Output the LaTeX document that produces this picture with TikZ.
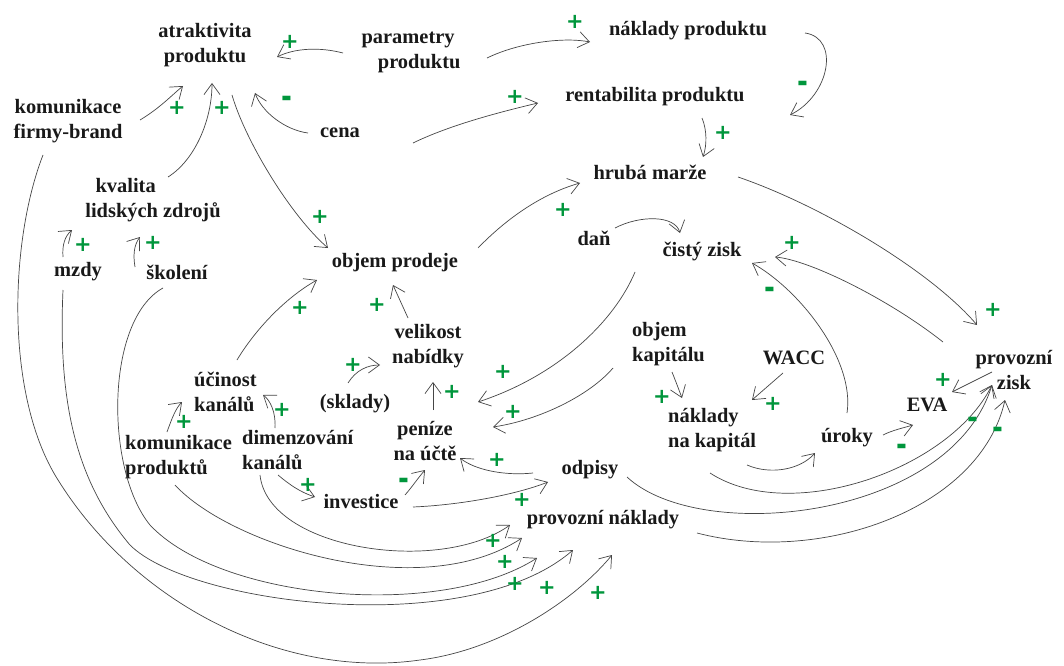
\documentclass[tikz,border=0pt]{standalone}
\usepackage{fontspec}
\usepackage{graphicx}
\usetikzlibrary{arrows.meta}
\setmainfont{Liberation Serif}
\newfontfamily\signfont{DejaVu Sans}
\definecolor{sgreen}{RGB}{0,150,60}
\definecolor{lcol}{RGB}{70,70,70}
\definecolor{tcol}{RGB}{25,25,25}
\tikzset{
 lbl/.style={font=\fontsize{20.5}{25}\selectfont\bfseries, text=tcol, inner sep=0pt, align=center},
 plus/.style={font=\signfont\bfseries\fontsize{21}{21}\selectfont, text=sgreen, inner sep=0pt},
 minus/.style={font=\signfont\bfseries\fontsize{21}{21}\selectfont, text=sgreen, inner sep=0pt},
 arr/.style={draw=lcol, line width=0.7bp, -{Straight Barb[length=11bp,width=16bp]}},
}
\begin{document}
\begin{tikzpicture}[x=1bp,y=-1bp]
\fill[white] (0,0) rectangle (1064,666);
\useasboundingbox (0,0) rectangle (1064,666);
% nodes
\node[lbl] (atr) at (205,45) {atraktivita\\produktu};
\node[lbl, align=left] (par) at (411,52) {parametry\\\hspace*{0.8em}produktu};
\node[lbl] (nprod) at (688,31) {náklady produktu};
\node[lbl] (rent) at (655,97) {rentabilita produktu};
\node[lbl] (hm) at (650,172) {hrubá marže};
\node[lbl] (kfb) at (68,121) {komunikace\\firmy-brand};
\node[lbl] (cena) at (340,133) {cena};
\node[lbl, align=left] (kval) at (153,200) {\hspace*{0.5em}kvalita\\lidských zdrojů};
\node[lbl] (mzdy) at (78,272) {mzdy};
\node[lbl] (skol) at (177,272) {školení};
\node[lbl] (obj) at (395,263) {objem prodeje};
\node[lbl] (dan) at (594,238) {daň};
\node[lbl] (cz) at (702,252) {čistý zisk};
\node[lbl] (vel) at (428,346) {velikost\\nabídky};
\node[lbl] (skl) at (355,404) {(sklady)};
\node[lbl, align=left, anchor=west] (uc) at (194,392) {účinost\\kanálů};
\node[lbl, align=left, anchor=west] (kp) at (125,457) {komunikace\\produktů};
\node[lbl, align=left, anchor=west] (dim) at (242,450) {dimenzování\\kanálů};
\node[lbl] (inv) at (361,502) {investice};
\node[lbl] (pen) at (425,441) {peníze\\na účtě};
\node[lbl] (odp) at (590,470) {odpisy};
\node[lbl] (pn) at (603,520) {provozní náklady};
\node[lbl, align=left, anchor=west] (ok) at (632,344) {objem\\kapitálu};
\node[lbl] (wacc) at (794,358) {WACC};
\node[lbl, align=left, anchor=west] (nk) at (668,430) {náklady\\na kapitál};
\node[lbl] (ur) at (847,438) {úroky};
\node[lbl] (eva) at (927,405) {EVA};
\node[lbl] (pz) at (1014,370) {provozní\\zisk};
% connectors
\draw[arr] ([shift={(72,-1)}]kfb.center) .. controls (160,108) and (172,95) .. ([shift={(-22,41)}]atr.center);
\draw[arr] ([shift={(15,-23)}]kval.center) .. controls (195,160) and (212,120) .. ([shift={(7,38)}]atr.center);
\draw[arr] ([shift={(27,50)}]atr.center) .. controls (245,140) and (290,215) .. ([shift={(-67,-15)}]obj.center);
\draw[arr] ([shift={(-68,1)}]par.center) .. controls (320,47) and (295,48) .. ([shift={(72,12)}]atr.center);
\draw[arr] ([shift={(-32,0)}]cena.center) .. controls (285,130) and (262,112) .. ([shift={(50,48)}]atr.center);
\draw[arr] ([shift={(76,6)}]par.center) .. controls (520,42) and (565,37) .. ([shift={(-98,11)}]nprod.center);
\draw[arr] ([shift={(73,10)}]cena.center) .. controls (450,125) and (500,112) .. ([shift={(-117,6)}]rent.center);
\draw[arr] ([shift={(117,2)}]nprod.center) .. controls (840,38) and (830,95) .. ([shift={(140,-57)}]hm.center);
\draw[arr] ([shift={(47,21)}]rent.center) .. controls (707,130) and (707,145) .. ([shift={(53,-15)}]hm.center);
\draw[arr] ([shift={(83,-15)}]obj.center) .. controls (510,215) and (545,193) .. ([shift={(-70,11)}]hm.center);
\draw[arr] ([shift={(21,-10)}]dan.center) .. controls (640,215) and (675,215) .. ([shift={(-22,-19)}]cz.center);
\draw[arr] ([shift={(88,5)}]hm.center) .. controls (820,205) and (930,270) .. ([shift={(-37,-45)}]pz.center);
\draw[arr] ([shift={(-71,-28)}]pz.center) .. controls (890,300) and (810,260) .. ([shift={(73,5)}]cz.center);
\draw[arr] ([shift={(0,-25)}]ur.center) .. controls (855,360) and (800,290) .. ([shift={(50,11)}]cz.center);
\draw[arr] ([shift={(-67,20)}]cz.center) .. controls (615,320) and (560,375) .. ([shift={(53,-39)}]pen.center);
\draw[arr] ([shift={(-19,24)}]ok.west) .. controls (590,395) and (540,420) .. ([shift={(68,-14)}]pen.center);
\draw[arr] ([shift={(8,-31)}]pen.center) -- ([shift={(5,36)}]vel.center);
\draw[arr] ([shift={(-7,-21)}]skl.center) .. controls (356,370) and (368,365) .. ([shift={(-48,19)}]vel.center);
\draw[arr] ([shift={(-20,-28)}]vel.center) -- ([shift={(-2,22)}]obj.center);
\draw[arr] ([shift={(43,-32)}]uc.west) .. controls (255,330) and (285,298) .. ([shift={(-78,17)}]obj.center);
\draw[arr] ([shift={(42,-25)}]kp.west) .. controls (172,418) and (176,408) .. ([shift={(-12,10)}]uc.west);
\draw[arr] ([shift={(33,-22)}]dim.west) .. controls (276,412) and (270,400) .. ([shift={(69,3)}]uc.west);
\draw[arr] ([shift={(-15,-15)}]mzdy.center) .. controls (62,245) and (65,236) .. ([shift={(-81,30)}]kval.center);
\draw[arr] ([shift={(-42,-5)}]skol.center) .. controls (133,255) and (134,245) .. ([shift={(-13,37)}]kval.center);
\draw[arr] ([shift={(36,25)}]dim.west) .. controls (290,485) and (300,492) .. ([shift={(-46,-5)}]inv.center);
\draw[arr] ([shift={(44,-7)}]inv.center) .. controls (412,487) and (418,478) .. ([shift={(0,29)}]pen.center);
\draw[arr] ([shift={(52,5)}]inv.center) .. controls (460,505) and (515,495) .. ([shift={(-42,12)}]odp.center);
\draw[arr] ([shift={(-57,3)}]odp.center) .. controls (505,476) and (475,470) .. ([shift={(35,17)}]pen.center);
\draw[arr] ([shift={(79,35)}]nk.west) .. controls (770,475) and (800,470) .. ([shift={(-32,15)}]ur.center);
\draw[arr] ([shift={(36,-3)}]ur.center) .. controls (893,430) and (903,428) .. ([shift={(-14,20)}]eva.center);
\draw[arr] ([shift={(-22,2)}]pz.center) -- ([shift={(25,-13)}]eva.center);
\draw[arr] ([shift={(40,28)}]ok.west) .. controls (676,382) and (679,390) .. ([shift={(14,-32)}]nk.west);
\draw[arr] ([shift={(-11,15)}]wacc.center) -- ([shift={(84,-30)}]nk.west);
\draw[arr] ([shift={(42,43)}]nk.west) .. controls (790,525) and (950,470) .. ([shift={(-22,15)}]pz.center);
\draw[arr] ([shift={(37,7)}]odp.center) .. controls (700,545) and (950,520) .. ([shift={(-22,15)}]pz.center);
\draw[arr] ([shift={(94,13)}]pn.center) .. controls (820,565) and (980,510) .. ([shift={(-9,30)}]pz.center);
\draw[arr] ([shift={(18,25)}]dim.west) .. controls (268,550) and (440,575) .. ([shift={(-93,5)}]pn.center);
\draw[arr] ([shift={(50,28)}]kp.west) .. controls (230,545) and (420,605) .. ([shift={(-81,18)}]pn.center);
\draw[arr] ([shift={(-14,16)}]skol.center) .. controls (105,320) and (105,470) .. (150,525) .. controls (220,600) and (440,620) .. ([shift={(-66,38)}]pn.center);
\draw[arr] ([shift={(-15,18)}]mzdy.center) .. controls (58,400) and (75,480) .. (130,545) .. controls (190,605) and (470,640) .. ([shift={(-30,30)}]pn.center);
\draw[arr] ([shift={(-25,34)}]kfb.center) .. controls (10,240) and (5,390) .. (55,475) .. controls (130,600) and (280,680) .. (420,660) .. controls (500,650) and (575,600) .. ([shift={(9,35)}]pn.center);
% signs
\node[plus] (s1) at (177,108) {+};
\node[plus] (s2) at (222,108) {+};
\node[plus] (s3) at (320,217) {+};
\node[plus] (s4) at (290,42) {+};
\node[minus] (s5) at (287,102) {\scalebox{1.25}[1.5]{-}};
\node[plus] (s6) at (575,22) {+};
\node[plus] (s7) at (515,97) {+};
\node[minus] (s8) at (803,87) {\scalebox{1.25}[1.5]{-}};
\node[plus] (s9) at (723,133) {+};
\node[plus] (s10) at (563,210) {+};
\node[plus] (s11) at (993,310) {+};
\node[plus] (s12) at (792,243) {+};
\node[minus] (s13) at (770,293) {\scalebox{1.25}[1.5]{-}};
\node[plus] (s14) at (503,372) {+};
\node[plus] (s15) at (513,412) {+};
\node[plus] (s16) at (452,392) {+};
\node[plus] (s17) at (353,365) {+};
\node[plus] (s18) at (377,305) {+};
\node[plus] (s19) at (300,308) {+};
\node[plus] (s20) at (184,422) {+};
\node[plus] (s21) at (282,410) {+};
\node[plus] (s22) at (83,245) {+};
\node[plus] (s23) at (153,243) {+};
\node[plus] (s24) at (308,485) {+};
\node[minus] (s25) at (404,484) {\scalebox{1.25}[1.5]{-}};
\node[plus] (s26) at (522,500) {+};
\node[plus] (s27) at (497,460) {+};
\node[minus] (s28) at (902,450) {\scalebox{1.25}[1.5]{-}};
\node[plus] (s29) at (943,380) {+};
\node[plus] (s30) at (662,397) {+};
\node[plus] (s31) at (773,404) {+};
\node[minus] (s32) at (973,423) {\scalebox{1.25}[1.5]{-}};
\node[minus] (s33) at (998,433) {\scalebox{1.25}[1.5]{-}};
\node[plus] (s34) at (493,541) {+};
\node[plus] (s35) at (505,562) {+};
\node[plus] (s36) at (515,584) {+};
\node[plus] (s37) at (547,588) {+};
\node[plus] (s38) at (598,593) {+};
\end{tikzpicture}
\end{document}
